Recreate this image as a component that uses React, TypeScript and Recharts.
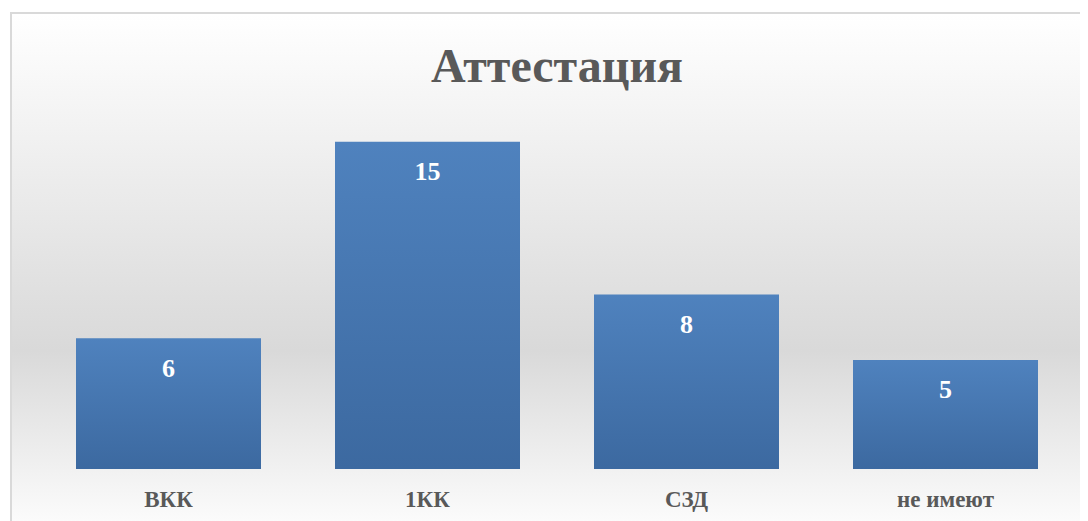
import React from 'react';
import { BarChart, Bar, XAxis, YAxis, LabelList } from 'recharts';

const categories = ['ВКК', '1КК', 'СЗД', 'не имеют'];
const counts = [6, 15, 8, 5];

const data = categories.map((name, i) => ({ name, value: counts[i] }));

const SERIF = '"Liberation Serif", "Times New Roman", serif';
const GRAY = '#595959';

const CategoryTick = (props: any) => {
  const { x, y, payload } = props;
  return (
    <text x={x} y={y + 38} textAnchor="middle" fill={GRAY} fontFamily={SERIF} fontWeight="bold" fontSize={23}>
      {payload.value}
    </text>
  );
};

const App: React.FC = () => {
  return (
    <div style={{ position: 'relative', width: 1080, height: 513, overflow: 'hidden' }}>
      <div
        style={{
          position: 'absolute',
          left: 2,
          top: 4,
          width: 1100,
          height: 530,
          boxSizing: 'border-box',
          border: '2px solid #d9d9d9',
          background: 'linear-gradient(to bottom, #ffffff 0%, #d9d9d9 64%, #ffffff 100%)',
        }}
      />
      <div
        style={{
          position: 'absolute',
          left: 0,
          width: 1098,
          top: 30,
          textAlign: 'center',
          fontFamily: SERIF,
          fontWeight: 'bold',
          fontSize: 48,
          color: GRAY,
          lineHeight: '56px',
        }}
      >
        Аттестация
      </div>
      <div style={{ position: 'absolute', left: 0, top: 0 }}>
        <BarChart width={1080} height={513} data={data} margin={{ top: 112, right: 13, bottom: 0, left: 31 }} barCategoryGap={37}>
          <defs>
            <linearGradient id="barFill" x1="0" y1="0" x2="0" y2="1">
              <stop offset="0%" stopColor="#4f82be" />
              <stop offset="100%" stopColor="#3c69a0" />
            </linearGradient>
          </defs>
          <XAxis dataKey="name" axisLine={false} tickLine={false} tickSize={0} tickMargin={0} height={52} tick={<CategoryTick />} interval={0} />
          <YAxis hide domain={[0, 16]} />
          <Bar dataKey="value" fill="url(#barFill)" isAnimationActive={false}>
            <LabelList dataKey="value" position="insideTop" offset={20} fill="#ffffff" fontFamily={SERIF} fontWeight="bold" fontSize={26} />
          </Bar>
        </BarChart>
      </div>
    </div>
  );
};

export default App;
